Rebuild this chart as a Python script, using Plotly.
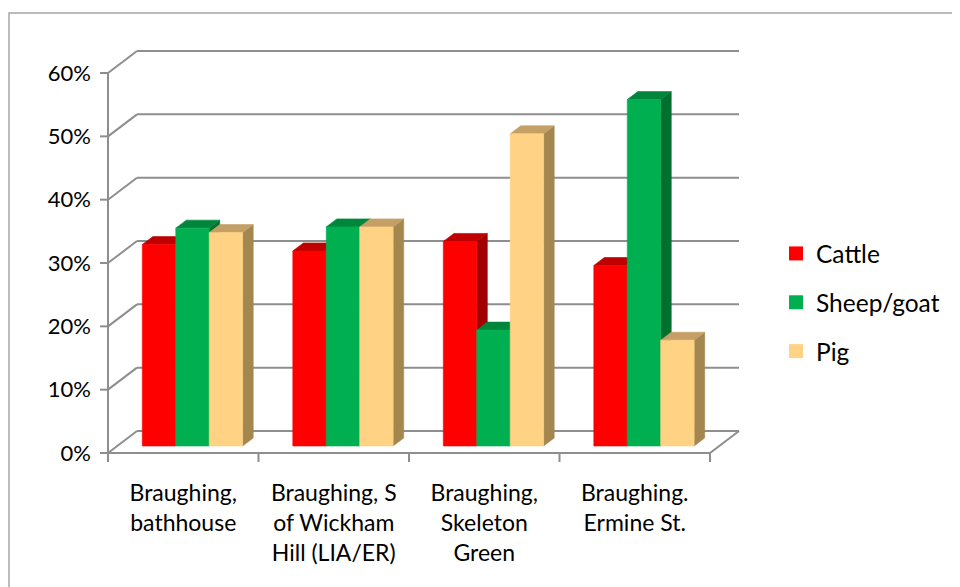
import plotly.graph_objects as go

# ---------------- data ----------------
categories = [
    "Braughing,<br>bathhouse",
    "Braughing, S<br>of Wickham<br>Hill (LIA/ER)",
    "Braughing,<br>Skeleton<br>Green",
    "Braughing.<br>Ermine St.",
]
series_names = ["Cattle", "Sheep/goat", "Pig"]
cattle = [0.318, 0.308, 0.323, 0.285]
sheep_goat = [0.344, 0.346, 0.183, 0.547]
pig = [0.337, 0.346, 0.493, 0.167]
y_tick_values = [0.0, 0.1, 0.2, 0.3, 0.4, 0.5, 0.6]
y_tick_labels = ["0%", "10%", "20%", "30%", "40%", "50%", "60%"]

series_values = [cattle, sheep_goat, pig]

# ---------------- styles ----------------
front_colors = ["#FF0000", "#00B050", "#FFD284"]
top_colors = ["#BE0000", "#00863C", "#C4A066"]
side_colors = ["#A00000", "#00702F", "#A4864F"]
line_color = "#8E8E8E"
FONT = "Lato"

# page offset (browser default body margin)
OFF = 8
FIG_W, FIG_H = 960 - OFF, 587 - OFF

# pseudo-3D geometry (axis units)
PX_X = 150.5          # pixels per category
PX_Y = 633.3          # pixels per 100 %
DX = 29 / PX_X        # floor depth, x component
DY = 22 / PX_Y        # floor depth, y component
F0 = 7 / 22           # depth of bar front face
FD = 8 / 22           # bar depth
GAP = 1.5             # gap width (150 %)
n_cat = len(categories)
n_ser = len(series_names)
BW = 1.0 / (n_ser + GAP)

ORIGIN_X, ORIGIN_Y = 108 - OFF, 453 - OFF
L_PX, R_PX, T_PX, B_PX = 98 - OFF, 750 - OFF, 40 - OFF, 468 - OFF
xmin = (L_PX - ORIGIN_X) / PX_X
xmax = (R_PX - ORIGIN_X) / PX_X
ymin = (ORIGIN_Y - B_PX) / PX_Y
ymax = (ORIGIN_Y - T_PX) / PX_Y


def px_paper_x(px):
    return (px - OFF - L_PX) / (R_PX - L_PX)


def px_paper_y(py):
    return (B_PX - (py - OFF)) / (B_PX - T_PX)


fig = go.Figure()

# ---------------- walls / floor / grid ----------------
lx, ly = [], []
for v in y_tick_values:
    # back wall gridline
    lx += [DX, n_cat + DX, None]
    ly += [v + DY, v + DY, None]
    # side wall diagonal
    lx += [0, DX, None]
    ly += [v, v + DY, None]
    # y tick mark
    lx += [-8 / PX_X, 0, None]
    ly += [v, v, None]
# front vertical axis
lx += [0, 0, None]
ly += [0, y_tick_values[-1], None]
# floor front edge and right edge
lx += [0, n_cat, n_cat + DX, None]
ly += [0, 0, DY, None]
# category tick marks
for i in range(n_cat + 1):
    lx += [i, i, None]
    ly += [0, -9 / PX_Y, None]

fig.add_trace(go.Scatter(x=lx, y=ly, mode="lines",
                         line=dict(color=line_color, width=2),
                         hoverinfo="skip", showlegend=False))

# ---------------- bars (front, top, side faces) ----------------
ddx, ddy = FD * DX, FD * DY
x0off, yb = F0 * DX, F0 * DY


def poly(xs, ys, color):
    fig.add_trace(go.Scatter(
        x=xs + [xs[0]], y=ys + [ys[0]], mode="lines", fill="toself",
        fillcolor=color, line=dict(color=color, width=0.6),
        hoverinfo="skip", showlegend=False))


for i in range(n_cat):
    for s in range(n_ser):
        v = series_values[s][i]
        xl = i + 0.5 - (n_ser / 2) * BW + s * BW + x0off
        xr = xl + BW
        yt = yb + v
        poly([xr, xr + ddx, xr + ddx, xr], [yb, yb + ddy, yt + ddy, yt], side_colors[s])
        poly([xl, xr, xr + ddx, xl + ddx], [yt, yt, yt + ddy, yt + ddy], top_colors[s])
        poly([xl, xr, xr, xl], [yb, yb, yt, yt], front_colors[s])

# ---------------- legend entries ----------------
for s in range(n_ser):
    fig.add_trace(go.Scatter(
        x=[None], y=[None], mode="markers", name=series_names[s],
        legendgroup=series_names[s],
        marker=dict(symbol="square", size=14, color=front_colors[s]),
        showlegend=True))

# ---------------- layout ----------------
fig.update_layout(
    width=FIG_W, height=FIG_H, autosize=False,
    margin=dict(l=L_PX, r=FIG_W - R_PX, t=T_PX, b=FIG_H - B_PX, pad=0),
    paper_bgcolor="white", plot_bgcolor="white",
    font=dict(family=FONT, color="black"),
    xaxis=dict(range=[xmin, xmax], showgrid=False, zeroline=False, showline=False,
               tickmode="array", tickvals=[i + 0.5 for i in range(n_cat)],
               ticktext=categories, ticks="", tickfont=dict(size=23, family=FONT),
               ticklabelstandoff=9, fixedrange=True),
    yaxis=dict(range=[ymin, ymax], showgrid=False, zeroline=False, showline=False,
               tickmode="array", tickvals=y_tick_values, ticktext=y_tick_labels,
               ticks="", tickfont=dict(size=22, family=FONT),
               ticklabelstandoff=6, fixedrange=True),
    legend=dict(x=px_paper_x(776), y=px_paper_y(231), xanchor="left", yanchor="top",
                font=dict(size=24.5, family=FONT, color="black"),
                tracegroupgap=14, bgcolor="rgba(0,0,0,0)", itemclick=False),
    showlegend=True,
    shapes=[dict(type="rect", xref="paper", yref="paper",
                 x0=px_paper_x(9), y0=px_paper_y(620), x1=px_paper_x(990), y1=px_paper_y(13),
                 line=dict(color="#A6A6A6", width=1.5), fillcolor="rgba(0,0,0,0)",
                 layer="below")],
)

fig.write_html("out.html")
